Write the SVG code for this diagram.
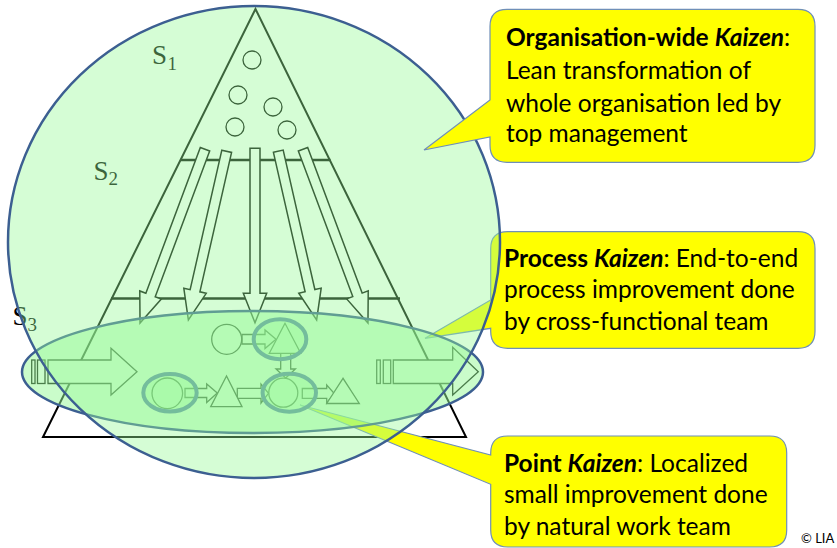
<svg xmlns="http://www.w3.org/2000/svg" width="837" height="548" viewBox="0 0 837 548">
  <style>
    .ln { fill: none; stroke: #000; stroke-width: 2; }
    .sh { fill: #fff; stroke: #000; stroke-width: 1.5; stroke-linejoin: miter; }
    .ps { fill: #fff; stroke: #000; stroke-width: 1.3; }
    .lab { font-family: "Liberation Serif", "Times New Roman", serif; fill: #000; }
    .call { fill: #ffff00; stroke: #6f8fb8; stroke-width: 1.2; }
    .ct { font-family: Lato, "Liberation Sans", sans-serif; font-size: 24.5px; fill: #000; }
    .b { font-weight: bold; }
    .bi { font-weight: bold; font-style: italic; }
    .green { fill: rgb(150,250,150); fill-opacity: 0.4; }
    .pe { fill: rgb(150,250,150); fill-opacity: 0.35; stroke: #5e94a0; stroke-width: 4; }
  </style>
  <rect width="837" height="548" fill="#fff"/>

  <!-- pyramid (drawn in black, tinted by overlays) -->
  <g id="pyramid">
    <polygon points="255.5,9 43,437 466,437" class="ln"/>
    <line x1="180.5" y1="160" x2="330.5" y2="160" stroke="#000" stroke-width="2.5"/>
    <line x1="111" y1="298.5" x2="400" y2="298.5" stroke="#000" stroke-width="2.5"/>
    <circle cx="252" cy="60" r="9" class="ps"/>
    <circle cx="238" cy="95" r="9" class="ps"/>
    <circle cx="273" cy="107" r="9" class="ps"/>
    <circle cx="235" cy="127" r="9" class="ps"/>
    <circle cx="287" cy="130" r="9" class="ps"/>
  </g>

  <g id="labels">
    <text class="lab" x="152" y="63.5" font-size="27">S</text>
    <text class="lab" x="167.5" y="69.5" font-size="19">1</text>
    <text class="lab" x="93.5" y="180" font-size="27">S</text>
    <text class="lab" x="108.5" y="184.5" font-size="19">2</text>
    <text class="lab" x="12.5" y="325" font-size="27">S</text>
    <text class="lab" x="27.5" y="331" font-size="19">3</text>
  </g>

  <!-- downward arrows and process arrows -->
  <g id="connectors">
    <path class="sh" transform="translate(205,149.3) rotate(20.5)" d="M-5,0 H5 V155.5 H11.5 L0,185.5 L-11.5,155.5 H-5 Z"/>
    <path class="sh" transform="translate(226.7,151.3) rotate(12.8)" d="M-5,0 H5 V143 H11.5 L0,173 L-11.5,143 H-5 Z"/>
    <path class="sh" transform="translate(255,148.3)" d="M-5,0 H5 V145 H11.7 L0,174.5 L-11.7,145 H-5 Z"/>
    <path class="sh" transform="translate(278.3,151.2) rotate(-12.8)" d="M-5,0 H5 V143 H11.5 L0,173 L-11.5,143 H-5 Z"/>
    <path class="sh" transform="translate(303,149.2) rotate(-20.5)" d="M-5,0 H5 V155.5 H11.5 L0,185.5 L-11.5,155.5 H-5 Z"/>

    <rect class="ps" x="31.7" y="360" width="3.3" height="23.5"/>
    <rect class="ps" x="37.5" y="360" width="7.5" height="23.5"/>
    <path class="ps" d="M48,360 H111 V348.3 L137,371.7 L111,395 V383.5 H48 Z"/>
    <rect class="ps" x="376.7" y="360" width="3.6" height="23.5"/>
    <rect class="ps" x="383.3" y="360" width="7.4" height="23.5"/>
    <path class="ps" d="M393.3,360 H452.7 V347.3 L478.3,371.7 L452.7,395 V383.5 H393.3 Z"/>

    <path class="ps" d="M242,334.5 H265 V330 L276,339.3 L265,348.6 V344 H242 Z"/>
    <path class="ps" d="M280.7,353 H290.7 V369 H295.4 L285.7,378 L276,369 H280.7 Z"/>
    <path class="ps" d="M185,388.5 H206.7 V384 L217.3,393 L206.7,402.5 V397.5 H185 Z"/>
    <path class="ps" d="M237.3,388.3 H261 V384 L268.5,393.3 L261,403 V398.3 H237.3 Z"/>
    <path class="ps" d="M302.3,388.5 H326.7 V385 L334.3,393.5 L326.7,403 V398.3 H302.3 Z"/>
  </g>

  <g id="process-shapes">
    <circle class="ps" cx="226.7" cy="339.3" r="15"/>
    <polygon class="ps" points="285,323.3 269.3,353.3 300.7,353.3"/>
    <circle class="ps" cx="167.3" cy="393.3" r="15.3"/>
    <polygon class="ps" points="226.5,376 210.7,406.7 242,406.7"/>
    <circle class="ps" cx="283.3" cy="392.7" r="14.5"/>
    <polygon class="ps" points="343,378.3 326.7,403.5 359.3,403.5"/>
  </g>

  <g id="process-kaizen">
    <path class="call" d="M507.7,231.7 H798 Q815,231.7 815,248.7 V331.3 Q815,348.3 798,348.3 H507.7 Q490.7,348.3 490.7,331.3 V328.3 L425,338.3 L490.7,300 V248.7 Q490.7,231.7 507.7,231.7 Z"/>
    <text class="ct" x="504" y="266.7"><tspan class="b">Process </tspan><tspan class="bi">Kaizen</tspan>: End-to-end</text>
    <text class="ct" x="504" y="298.3">process improvement done</text>
    <text class="ct" x="504" y="330">by cross-functional team</text>
  </g>
  <g id="point-kaizen">
    <path class="call" d="M507.7,436 H769.7 Q786.7,436 786.7,453 V530 Q786.7,547 769.7,547 H507.7 Q490.7,547 490.7,530 V484.3 L300,405 L490.7,455 V453 Q490.7,436 507.7,436 Z"/>
    <text class="ct" x="504" y="471.7"><tspan class="b">Point </tspan><tspan class="bi">Kaizen</tspan>: Localized</text>
    <text class="ct" x="504" y="503.3">small improvement done</text>
    <text class="ct" x="504" y="535">by natural work team</text>
  </g>

  <g id="process-ellipse">
    <ellipse cx="252.5" cy="372" rx="230.5" ry="61" fill="rgb(150,250,150)" fill-opacity="0.5" stroke="#3c5f91" stroke-width="2.5"/>
  </g>
  <g id="point-ellipses">
    <ellipse class="pe" cx="280" cy="339.3" rx="26.3" ry="20"/>
    <ellipse class="pe" cx="170" cy="392.7" rx="26.7" ry="18.8"/>
    <ellipse class="pe" cx="289.3" cy="392.7" rx="26.7" ry="19"/>
  </g>

  <g id="organisation-circle">
    <ellipse cx="254" cy="242" rx="246" ry="236" class="green" stroke="#3c5f91" stroke-width="2.5"/>
  </g>

  <g id="organisation-kaizen">
    <path class="call" d="M507,9.3 H798 Q815,9.3 815,26.3 V145.3 Q815,162.3 798,162.3 H507 Q490,162.3 490,145.3 V137 L424,150 L490,100 V26.3 Q490,9.3 507,9.3 Z"/>
    <text class="ct" x="506" y="45.7"><tspan class="b">Organisation-wide </tspan><tspan class="bi">Kaizen</tspan>:</text>
    <text class="ct" x="506" y="79">Lean transformation of</text>
    <text class="ct" x="506" y="111.7">whole organisation led by</text>
    <text class="ct" x="506" y="141.7">top management</text>
  </g>

  <text x="801" y="543.3" font-family="Lato, 'Liberation Sans', sans-serif" font-size="13" fill="#000">© LIA</text>
</svg>
